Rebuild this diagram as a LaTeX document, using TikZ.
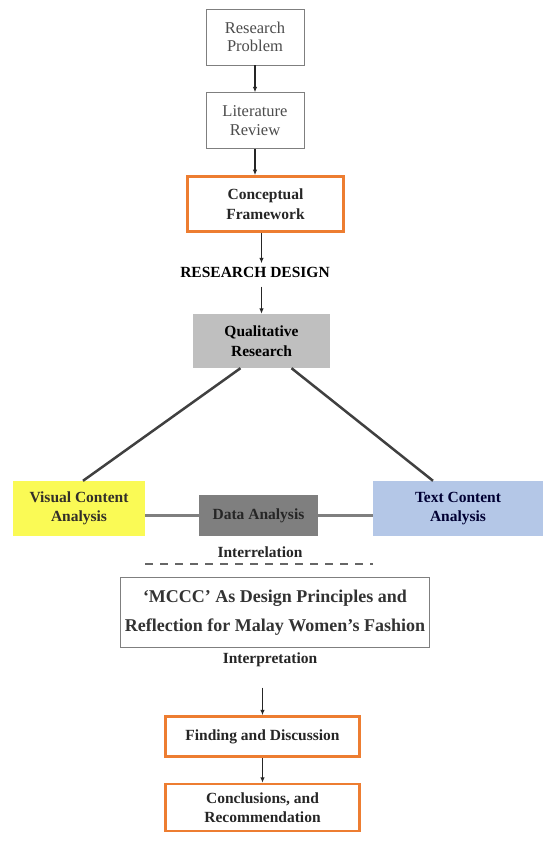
\documentclass[tikz,border=0pt]{standalone}
\usepackage{fontspec}
\setmainfont{Liberation Serif}
\usepackage{xcolor}
\usetikzlibrary{arrows.meta,positioning}

\definecolor{orng}{HTML}{ED7D31}
\definecolor{qgray}{HTML}{BFBFBF}
\definecolor{dgray}{HTML}{7F7F7F}
\definecolor{ylw}{HTML}{FAFA55}
\definecolor{lblue}{HTML}{B4C7E7}

\begin{document}
\begin{tikzpicture}[
  x=1pt, y=1pt,
  node distance=26pt,
  font=\bfseries\fontsize{15.5}{19.5}\selectfont,
  box/.style ={draw=dgray, line width=0.8pt, align=center, fill=white},
  thin/.style={box, font=\fontsize{16.5}{18.5}\selectfont, text=black!70,
               minimum width=98pt, minimum height=56pt},
  obox/.style={box, draw=orng, line width=2.5pt, text=black!85},
  flat/.style={draw=none, align=center},
  arr/.style ={-{Latex[length=5.5pt,width=4.5pt]}, line width=1.2pt, black!85},
  leg/.style ={line width=2.5pt, black!75},
  link/.style={line width=3pt, dgray}
]
\useasboundingbox (0,0) rectangle (543,-841);

% top of the column
\node[thin] (rp) at (255,-37) {Research\\Problem};
\node[thin, below=27pt of rp] (lr) {Literature\\Review};
\node[obox, below=26pt of lr, xshift=10.5pt,
      minimum width=156pt, minimum height=55pt] (cf) {Conceptual\\Framework};

\node[flat] (rd) at (255,-272) {RESEARCH DESIGN};
\node[flat, fill=qgray, minimum width=137pt, minimum height=54pt]
      (qr) at (261.5,-341) {Qualitative\\Research};

% three analysis boxes
\node[flat, fill=ylw, text=black!85!olive, minimum width=132pt, minimum height=55pt]
      (vca) at (79,-508.5) {Visual Content\\Analysis};
\node[flat, fill=dgray, text=black!85, minimum width=119pt, minimum height=41pt]
      (da) at (258.5,-515.5) {Data Analysis};
\node[flat, fill=lblue, text=blue!20!black, minimum width=170pt, minimum height=55pt]
      (tca) at (458,-508.5) {Text Content\\Analysis};

\node[flat, text=black!85] (inter) at (260,-552) {Interrelation};

\node[box, line width=1.2pt, text=black!80, minimum width=309pt, minimum height=70pt,
      font=\bfseries\fontsize{18}{29}\selectfont]
      (mccc) at (275,-612.5) {`MCCC' As Design Principles and\\Reflection for Malay Women's Fashion};
\node[flat, text=black!85] (interp) at (270,-660) {Interpretation};

\node[obox, minimum width=194pt, minimum height=40pt] (fd) at (262.5,-736.5)
      {Finding and Discussion};
\node[obox, below=25pt of fd, minimum width=194pt, minimum height=47pt] (cr)
      {Conclusions, and\\Recommendation};

\draw[arr] (rp)    -- (lr);
\draw[arr] (lr.south) -- (lr.south |- cf.north);
\draw[arr] (qr.north |- cf.south) -- (qr.north |- rd.north);
\draw[arr, shorten <=6pt] (qr.north |- rd.south) -- (qr.north);
\draw[leg] ([xshift=-21pt]qr.south) -- ([xshift=4pt]vca.north);
\draw[leg] ([xshift=30pt]qr.south)  -- ([xshift=-25pt]tca.north);
\draw[link] (vca.east |- da.center) -- (da.west);
\draw[link] (da.east) -- (tca.west |- da.center);
\draw[black!60, line width=1.5pt, dash pattern=on 8pt off 7pt]
      ([yshift=-3pt]vca.east |- inter.south) -- ([yshift=-3pt]tca.west |- inter.south);
\draw[arr, shorten <=17pt] (fd.north |- interp.south) -- (fd.north);
\draw[arr] (fd) -- (cr);
\end{tikzpicture}
\end{document}
